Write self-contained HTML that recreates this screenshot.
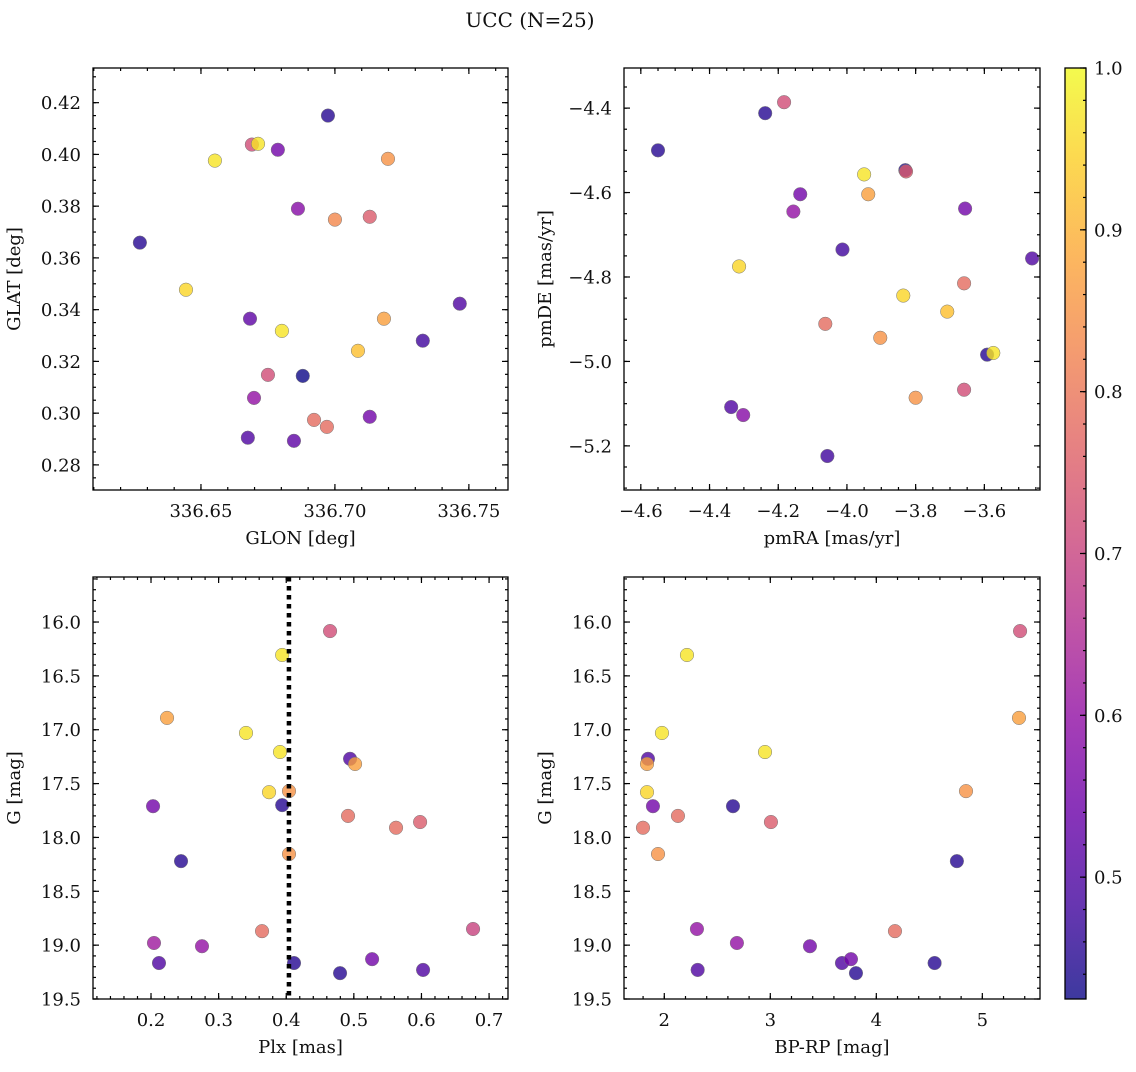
<!DOCTYPE html>
<html><head><meta charset="utf-8"><style>
body{margin:0;background:#fff;}
svg text{font-family:"DejaVu Serif","Liberation Serif",serif;fill:#111;}
</style></head><body>
<svg id="fig" width="1136" height="1067" viewBox="0 0 1136 1067" xmlns="http://www.w3.org/2000/svg">
<defs><linearGradient id="cbg" x1="0" y1="1" x2="0" y2="0">
<stop offset="0" stop-color="#0d0887"/><stop offset="0.1" stop-color="#41049d"/><stop offset="0.2" stop-color="#6a00a8"/><stop offset="0.3" stop-color="#8f0da4"/><stop offset="0.4" stop-color="#b12a90"/><stop offset="0.5" stop-color="#cc4778"/><stop offset="0.6" stop-color="#e16462"/><stop offset="0.7" stop-color="#f2844b"/><stop offset="0.8" stop-color="#fca636"/><stop offset="0.9" stop-color="#fcce25"/><stop offset="1" stop-color="#f0f921"/>
</linearGradient></defs>
<text x="530" y="27" font-size="20" text-anchor="middle">UCC (N=25)</text>
</svg>
<script>
// Panel 1: GLON vs GLAT
const glon1=[336.6974,336.669,336.6713,336.6787,336.6552,336.7198,336.6862,336.70,336.713,336.6272,336.6444,336.7466,336.6683,336.6802,336.7183,336.7328,336.7086,336.675,336.688,336.6698,336.713,336.6922,336.697,336.6675,336.6847];
const glat1=[0.415,0.4038,0.4041,0.4018,0.3976,0.3983,0.379,0.3748,0.3759,0.3659,0.3477,0.3423,0.3365,0.3318,0.3365,0.328,0.3241,0.3148,0.3144,0.3059,0.2986,0.2974,0.2947,0.2905,0.2893];
const prob1=[0.45,0.72,0.97,0.55,0.97,0.85,0.58,0.83,0.75,0.45,0.95,0.5,0.52,0.97,0.87,0.48,0.92,0.72,0.42,0.6,0.55,0.78,0.78,0.5,0.52];
// Panel 2: pmRA vs pmDE
const pmra2=[-4.55,-4.238,-4.183,-3.95,-3.83,-3.828,-3.938,-4.136,-4.156,-3.656,-3.461,-4.013,-4.314,-3.659,-3.836,-3.708,-4.063,-3.903,-3.592,-3.574,-3.659,-3.8,-4.337,-4.302,-4.057];
const pmde2=[-4.5,-4.412,-4.386,-4.557,-4.547,-4.55,-4.604,-4.604,-4.645,-4.638,-4.756,-4.735,-4.775,-4.815,-4.844,-4.882,-4.911,-4.944,-4.984,-4.98,-5.067,-5.086,-5.108,-5.127,-5.224];
const prob2=[0.45,0.45,0.72,0.97,0.45,0.75,0.87,0.55,0.6,0.55,0.5,0.48,0.95,0.78,0.95,0.92,0.78,0.85,0.45,0.97,0.72,0.85,0.5,0.58,0.48];
// Panel 3: Plx vs G
const plx3=[0.4648,0.394,0.2237,0.3405,0.3908,0.4944,0.5018,0.3746,0.4041,0.203,0.394,0.4914,0.598,0.5624,0.4041,0.2444,0.3642,0.6763,0.2044,0.2754,0.2118,0.4115,0.527,0.6024,0.4796];
const g3=[16.084,16.306,16.89,17.03,17.207,17.27,17.318,17.58,17.57,17.71,17.70,17.80,17.857,17.91,18.154,18.22,18.87,18.85,18.98,19.01,19.166,19.166,19.13,19.23,19.26];
const prob3=[0.72,0.97,0.87,0.97,0.97,0.5,0.87,0.95,0.85,0.55,0.45,0.78,0.75,0.78,0.85,0.45,0.78,0.7,0.62,0.6,0.5,0.45,0.55,0.5,0.45];
const plxLine=[0.404];
// Panel 4: BP-RP vs G
const bprp4=[5.356,2.214,5.346,1.978,2.95,1.846,1.837,1.837,4.846,1.893,2.648,2.129,3.006,1.799,1.941,4.76,2.308,4.176,2.685,3.374,4.55,3.676,3.761,2.315,3.808];
const g4=[16.084,16.306,16.89,17.03,17.207,17.27,17.318,17.58,17.57,17.71,17.71,17.80,17.857,17.91,18.154,18.22,18.85,18.87,18.98,19.01,19.166,19.166,19.13,19.23,19.26];
const prob4=[0.72,0.97,0.87,0.97,0.97,0.5,0.87,0.95,0.85,0.55,0.45,0.78,0.75,0.78,0.85,0.45,0.6,0.78,0.6,0.55,0.45,0.5,0.55,0.5,0.45];
// Ticks
const tick1x=["336.65","336.70","336.75"], tick1y=["0.28","0.30","0.32","0.34","0.36","0.38","0.40","0.42"];
const tick2x=["-4.6","-4.4","-4.2","-4.0","-3.8","-3.6"], tick2y=["-5.2","-5.0","-4.8","-4.6","-4.4"];
const tick3x=["0.2","0.3","0.4","0.5","0.6","0.7"], tickGy=["16.0","16.5","17.0","17.5","18.0","18.5","19.0","19.5"];
const tick4x=["2","3","4","5"];
const cbTicks=["0.5","0.6","0.7","0.8","0.9","1.0"];
const VMIN=0.4247, VMAX=1.0;

const NS="http://www.w3.org/2000/svg";
const svg=document.getElementById('fig');
const stops=[[13,8,135],[65,4,157],[106,0,168],[143,13,164],[177,42,144],[204,71,120],[225,100,98],[242,132,75],[252,166,54],[252,206,37],[240,249,33]];
function plasma(t){t=Math.max(0,Math.min(1,t));const f=t*10,i=Math.min(9,Math.floor(f)),u=f-i;const a=stops[i],b=stops[i+1];return `rgb(${a.map((v,k)=>Math.round(v+(b[k]-v)*u)).join(',')})`;}
function mk(tag,attrs,parent){const e=document.createElementNS(NS,tag);for(const k in attrs)e.setAttribute(k,attrs[k]);(parent||svg).appendChild(e);return e;}
function fmt(s){return s.replace('-','\u2212');}
function minorTicks(lo,hi,step){const r=[];for(let v=Math.ceil(lo/step-1e-9)*step;v<=hi+1e-9;v+=step)r.push(v);return r;}
const FS=18;

function panel(o){
  const {L,T,W,H,xmin,xmax,ymin,ymax,yinv,xt,yt,xminor,yminor,xs,ys,ps,xlabel,ylabel,name}=o;
  const g=mk('g',{});
  
  
  const X=v=>L+(v-xmin)/(xmax-xmin)*W;
  const Y=v=>yinv?T+(v-ymin)/(ymax-ymin)*H:T+H-(v-ymin)/(ymax-ymin)*H;
  const pts=mk('g',{},g);
  
  
  for(let i=0;i<xs.length;i++){
    const c=mk('circle',{cx:X(xs[i]),cy:Y(ys[i]),r:6.8,fill:plasma((ps[i]-VMIN)/(VMAX-VMIN)),'fill-opacity':0.8,stroke:'#777','stroke-width':0.5},pts);
    
    
  }
  if(o.vline){for(const v of o.vline){const l=mk('line',{x1:X(v),x2:X(v),y1:T,y2:T+H,stroke:'#000','stroke-width':4.5,'stroke-dasharray':'4.5,4.5'},g);
    
    }}
  const ax=mk('g',{stroke:'#000','stroke-width':1.2},g);
  for(const v of minorTicks(xmin,xmax,xminor)){const x=X(v);mk('line',{x1:x,x2:x,y1:T+H,y2:T+H-3},ax);mk('line',{x1:x,x2:x,y1:T,y2:T+3},ax);}
  for(const v of minorTicks(ymin,ymax,yminor)){const y=Y(v);mk('line',{x1:L,x2:L+3,y1:y,y2:y},ax);mk('line',{x1:L+W,x2:L+W-3,y1:y,y2:y},ax);}
  for(const s of xt){const v=parseFloat(s),x=X(v);mk('line',{x1:x,x2:x,y1:T+H,y2:T+H-6},ax);mk('line',{x1:x,x2:x,y1:T,y2:T+6},ax);
    const t=mk('text',{x:x,y:T+H+27,'font-size':FS,'text-anchor':'middle'},g);t.textContent=fmt(s);
    
    }
  for(const s of yt){const v=parseFloat(s),y=Y(v);mk('line',{x1:L,x2:L+6,y1:y,y2:y},ax);mk('line',{x1:L+W,x2:L+W-6,y1:y,y2:y},ax);
    const t=mk('text',{x:L-12,y:y+6.5,'font-size':FS,'text-anchor':'end'},g);t.textContent=fmt(s);
    
    }
  mk('rect',{x:L,y:T,width:W,height:H,fill:'none',stroke:'#000','stroke-width':1.3},g);
  const xl=mk('text',{x:L+W/2,y:T+H+54,'font-size':FS,'text-anchor':'middle'},g);xl.textContent=xlabel;
  
  
  const yx=L-73,yy=T+H/2;
  const yl=mk('text',{x:yx,y:yy,'font-size':FS,'text-anchor':'middle',transform:`rotate(-90 ${yx} ${yy})`},g);yl.textContent=ylabel;
  
  
}
panel({name:'panel-glon-glat',L:93,T:68,W:415,H:422,xmin:336.6097,xmax:336.7646,ymin:0.2703,ymax:0.4334,xt:tick1x,yt:tick1y,xminor:0.01,yminor:0.005,xs:glon1,ys:glat1,ps:prob1,xlabel:'GLON [deg]',ylabel:'GLAT [deg]'});
panel({name:'panel-pm',L:624,T:68,W:416,H:422,xmin:-4.649,xmax:-3.438,ymin:-5.3045,ymax:-4.305,xt:tick2x,yt:tick2y,xminor:0.05,yminor:0.05,xs:pmra2,ys:pmde2,ps:prob2,xlabel:'pmRA [mas/yr]',ylabel:'pmDE [mas/yr]'});
panel({name:'panel-plx-g',L:93,T:577,W:415,H:422,xmin:0.1142,xmax:0.728,ymin:15.582,ymax:19.5,yinv:true,xt:tick3x,yt:tickGy,xminor:0.02,yminor:0.1,xs:plx3,ys:g3,ps:prob3,xlabel:'Plx [mas]',ylabel:'G [mag]',vline:plxLine});
panel({name:'panel-cmd',L:624,T:577,W:416,H:422,xmin:1.62,xmax:5.544,ymin:15.582,ymax:19.5,yinv:true,xt:tick4x,yt:tickGy,xminor:0.2,yminor:0.1,xs:bprp4,ys:g4,ps:prob4,xlabel:'BP-RP [mag]',ylabel:'G [mag]'});

// Colorbar
const cb=mk('g',{});


const CL=1065,CT=68,CW=21,CH=931;
mk('rect',{x:CL,y:CT,width:CW,height:CH,fill:'url(#cbg)','fill-opacity':0.8},cb);
mk('rect',{x:CL,y:CT,width:CW,height:CH,fill:'none',stroke:'#000','stroke-width':1.3},cb);
const CY=v=>CT+CH-(v-VMIN)/(VMAX-VMIN)*CH;
for(const v of minorTicks(VMIN,VMAX,0.02)){mk('line',{x1:CL+CW,x2:CL+CW-3,y1:CY(v),y2:CY(v),stroke:'#000','stroke-width':1.2},cb);}
for(const s of cbTicks){const y=CY(parseFloat(s));mk('line',{x1:CL+CW,x2:CL+CW-6,y1:y,y2:y,stroke:'#000','stroke-width':1.2},cb);
  const t=mk('text',{x:CL+CW+8,y:y+6.5,'font-size':FS},cb);t.textContent=s;
  
  }
</script>
</body></html>
